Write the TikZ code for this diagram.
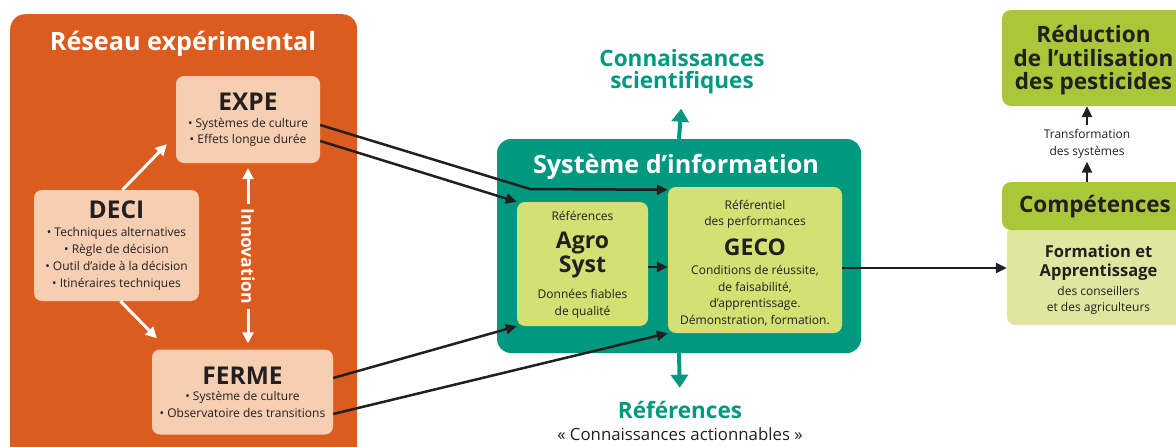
\documentclass[tikz,border=0pt]{standalone}
\usepackage{fontspec}
\setmainfont{Open Sans}
\usetikzlibrary{arrows.meta}

\definecolor{orangenet}{RGB}{220,92,32}
\definecolor{peach}{RGB}{246,206,178}
\definecolor{tealinfo}{RGB}{0,153,128}
\definecolor{lime}{RGB}{211,224,115}
\definecolor{leafgreen}{RGB}{170,199,58}
\definecolor{palegreen}{RGB}{222,230,160}
\definecolor{inkdark}{RGB}{35,31,32}

\newcommand\boxhead{\fontsize{24.5}{25}\selectfont\bfseries}
\newcommand\refhead{\fontsize{23}{24}\selectfont\bfseries}
\newcommand\topgap[1]{\rule{0pt}{#1}}

\begin{document}
\begin{tikzpicture}[x=1pt, y=-1pt]
    \tikzstyle{every node}=[align = center, text=inkdark, font=\fontsize{12}{16.5}\selectfont]
    \tikzstyle{orangebox} = [fill=orangenet, rounded corners=15pt, inner sep=0pt]
    \tikzstyle{peachbox} = [fill=peach, rounded corners=8pt, inner sep=0pt]
    \tikzstyle{tealbox} = [fill=tealinfo, rounded corners=14pt, inner sep=0pt]
    \tikzstyle{limebox} = [fill=lime, rounded corners=8pt, inner sep=0pt]
    \tikzstyle{greenbox} = [fill=leafgreen, rounded corners=9pt, inner sep=0pt, font=\fontsize{22.5}{23.5}\selectfont\bfseries]
    \tikzstyle{palebox} = [fill=palegreen, rounded corners=8pt, inner sep=0pt]
    \tikzstyle{bigtitle} = [text=white, font=\fontsize{25.2}{28}\selectfont\bfseries]
    \tikzstyle{tealtitle} = [text=tealinfo, font=\fontsize{22.5}{22}\selectfont\bfseries]
    \tikzstyle{whitearrow} = [draw=white, line width=3pt, -{Triangle[length=11pt, width=11pt]}]
    \tikzstyle{blackarrow} = [draw=inkdark, line width=2.5pt, -{Triangle[length=11pt, width=10pt]}]
    \tikzstyle{tealarrow} = [draw=tealinfo, line width=4pt, -{Triangle[length=13pt, width=17pt]}]
    \useasboundingbox (0,0) rectangle (1176,447);

    % reseau experimental
    \node[orangebox, minimum width=347pt, minimum height=470pt, anchor=north west] (reseau) at (10,14) {};
    \node[bigtitle] (reseautitle) at (183,44) {Réseau expérimental};
    \node[peachbox, minimum width=144pt, minimum height=87pt] (expe) at (248,119.5)
        {{\boxhead EXPE}\\[0.5pt] • Systèmes de culture\\ • Effets longue durée};
    \node[peachbox, minimum width=165pt, minimum height=111pt] (deci) at (116.5,245.5)
        {{\boxhead DECI}\\[1pt] • Techniques alternatives\\[0.5pt] • Règle de décision\\[0.5pt] • Outil d’aide à la décision\\[0.5pt] • Itinéraires techniques};
    \node[peachbox, minimum width=181pt, minimum height=85pt] (ferme) at (242.5,392)
        {{\boxhead FERME}\\ • Système de culture\\ • Observatoire des transitions};
    \draw[whitearrow] ([xshift=6pt]deci.north) -- ([xshift=-9pt, yshift=19pt]expe.south west);
    \draw[whitearrow] ([xshift=4pt]deci.south) -- ([xshift=5pt, yshift=11pt]ferme.north west);
    \draw[whitearrow, {Triangle[length=11pt, width=11pt]}-{Triangle[length=11pt, width=11pt]}, shorten <=5pt, shorten >=6pt]
        (expe.south) -- (expe.south |- ferme.north)
        node[midway, fill=orangenet, rotate=-90, inner sep=5pt, text=white, font=\fontsize{17.5}{18}\selectfont\bfseries] (innov) {Innovation};

    % systeme d'information
    \node[tealbox, minimum width=364pt, minimum height=214pt] (sysinfo) at (679,246) {};
    \node[bigtitle] (sysinfotitle) at (676,166.5) {Système d’information};
    \node[limebox, minimum width=131pt, minimum height=124pt] (agro) at (582.5,264)
        {\topgap{11pt}Références\\[10.5pt] {\refhead Agro}\\[1pt] {\refhead Syst}\\[9.5pt] Données fiables\\ de qualité};
    \node[limebox, minimum width=174pt, minimum height=146pt] (geco) at (755,260)
        {\topgap{15pt}Référentiel\\ des performances\\[9.3pt] {\refhead GECO}\\[2.5pt] Conditions de réussite,\\ de faisabilité,\\ d’apprentissage.\\ Démonstration, formation.};
    \node[tealtitle] (connsci) at (682,72) {Connaissances\\ scientifiques};
    \node[tealtitle] (refs) at (680,410) {Références};
    \node[font=\fontsize{16.8}{18}\selectfont] (actionnables) at (680,434) {« Connaissances actionnables »};
    \draw[tealarrow, shorten >=11pt] (sysinfo.north) -- (connsci.south);
    \draw[tealarrow, shorten >=10pt] (sysinfo.south) -- (refs.north);

    % liens vers le systeme d'information
    \coordinate (bend) at (530,189);
    \draw[blackarrow] ([yshift=-5.5pt]expe.east) -- (bend) -- ([yshift=-3pt]geco.north west);
    \draw[blackarrow] ([yshift=-21.5pt]expe.east) -- (agro.north west);
    \draw[blackarrow] ([yshift=14pt]ferme.east) -- (agro.south west);
    \draw[blackarrow] ([yshift=-22pt]ferme.east) -- (geco.south west);
    \coordinate (agroout) at ([yshift=-3pt]agro.east);
    \draw[blackarrow] (agroout) -- (agroout -| geco.west);

    % competences
    \node[greenbox, minimum width=183pt, minimum height=96pt] (reduction) at (1093.5,58)
        {\topgap{22pt}Réduction\\ de l’utilisation\\ des pesticides};
    \node[palebox, minimum width=183pt, minimum height=99pt] (formation) at (1098.5,275.5)
        {{\fontsize{16.5}{19}\selectfont\bfseries\topgap{21pt}Formation et}\\[2.5pt] {\fontsize{16.5}{19}\selectfont\bfseries Apprentissage}\\[2.5pt] des conseillers\\ et des agriculteurs};
    \node[greenbox, minimum width=186pt, minimum height=48pt] (competences) at (1095,206) {\topgap{19pt}Compétences};
    \node[font=\fontsize{12}{17}\selectfont] (transfo) at (1087,143.5) {Transformation\\ des systèmes};
    \draw[blackarrow] (competences.north -| transfo) -- (transfo.south);
    \draw[blackarrow] (transfo.north) -- (reduction.south -| transfo);
    \coordinate (gecoout) at ([yshift=-8pt]geco.east);
    \draw[blackarrow] (gecoout) -- (gecoout -| formation.west);
\end{tikzpicture}
\end{document}
